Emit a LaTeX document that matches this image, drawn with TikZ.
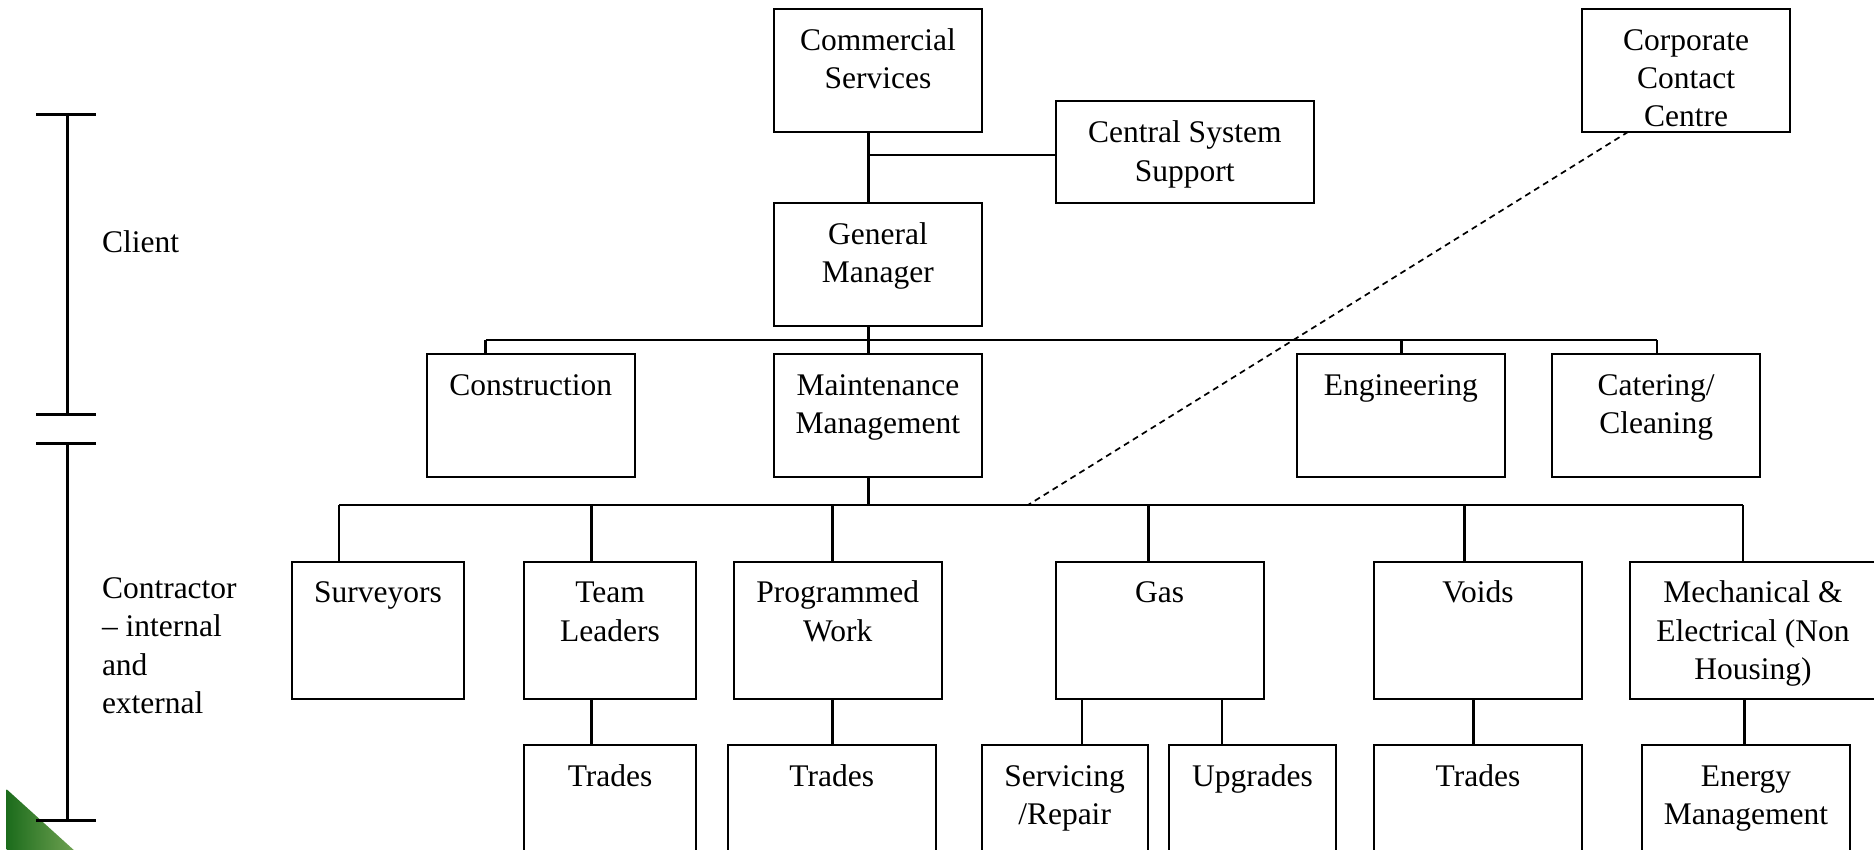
\documentclass[tikz,border=0pt]{standalone}
\usepackage{fontspec}
\setmainfont{Liberation Serif}
\begin{document}
\begin{tikzpicture}[x=1pt,y=-1pt,
  orgbox/.style={draw, line width=2pt, inner sep=0pt, outer sep=0pt, fill=white},
  orgtext/.style={anchor=north, inner sep=0pt, align=center,
    font=\fontsize{31.5}{38.3}\selectfont},
  sidetext/.style={inner sep=0pt, align=left,
    font=\fontsize{31.5}{38.3}\selectfont},
  link/.style={line width=2.5pt},
  dotlink/.style={line width=1.7pt, dash pattern=on 6pt off 4.5pt},
  bar/.style={line width=3pt}]

% page frame
\useasboundingbox (0,0) rectangle (1874,850);
\clip (0,0) rectangle (1874,850);

% box with its text set from the top: name, left, top, right, bottom, text
\newcommand\orgunit[6]{%
  \node[orgbox, minimum width={(#4-#2)*1pt}, minimum height={(#5-#3)*1pt}]
    (#1) at ({(#2+#4)/2},{(#3+#5)/2}) {};
  \node[orgtext] (#1-t) at ([yshift=-14.2pt]#1.north) {\strut #6};
}

% corner ornament
\definecolor{leafdark}{RGB}{28,108,28}
\definecolor{leaflight}{RGB}{112,162,82}
\shade[left color=leafdark, right color=leaflight]
  (6.7,789.3) -- (6.7,852) -- (76,852) -- cycle;

% client / contractor scale
\draw[bar] (36,114.3) -- (96.4,114.3);
\draw[bar] (67,114.3) -- (67,414.3);
\draw[bar] (36,414.3) -- (96.4,414.3);
\draw[bar] (36,443.3) -- (96.4,443.3);
\draw[bar] (67,443.3) -- (67,820);
\draw[bar] (36,820) -- (96.4,820);
\node[sidetext, anchor=base west] (client) at (101.8,253) {Client};
\node[sidetext, anchor=north west] (contractor) at (101.8,571.5)
  {\strut Contractor\\– internal\\and\\external};

% top tier
\orgunit{cs}{773.5}{9}{982.3}{131.7}{Commercial\\Services}
\orgunit{css}{1055.6}{101.5}{1314}{203.3}{Central System\\Support}
\orgunit{ccc}{1582}{9}{1790}{131.7}{Corporate\\Contact\\Centre}
\orgunit{gm}{773.5}{203.3}{982.3}{325.7}{General\\Manager}

% second tier
\orgunit{con}{426.8}{354.3}{634.8}{476.7}{Construction}
\orgunit{mm}{773.5}{354.3}{982.3}{477}{Maintenance\\Management}
\orgunit{eng}{1296.7}{354.3}{1504.9}{476.7}{Engineering}
\orgunit{cat}{1552}{354.3}{1760.2}{476.7}{Catering/\\Cleaning}

% third tier
\orgunit{sur}{291.5}{561.7}{464.3}{699.3}{Surveyors}
\orgunit{tl}{523.7}{561.7}{696.4}{699.3}{Team\\Leaders}
\orgunit{pw}{733.7}{561.7}{941.8}{699.3}{Programmed\\Work}
\orgunit{gas}{1055.6}{561.7}{1263.8}{699.3}{Gas}
\orgunit{voi}{1373.9}{561.7}{1582}{699.3}{Voids}
\orgunit{mee}{1630}{561.7}{1876}{699.3}{Mechanical \&\\Electrical (Non\\Housing)}

% fourth tier
\orgunit{tr1}{523.7}{745}{696.4}{880}{Trades}
\orgunit{tr2}{727.7}{745}{935.8}{880}{Trades}
\orgunit{ser}{981.5}{745}{1147.7}{880}{Servicing\\/Repair}
\orgunit{upg}{1169.4}{745}{1335.7}{880}{Upgrades}
\orgunit{tr3}{1373.9}{745}{1582}{880}{Trades}
\orgunit{em}{1641.9}{745}{1850}{880}{Energy\\Management}

% main spine
\coordinate (spine) at (868.5,155);
\draw[link] (spine |- cs.south) -- (spine |- gm.north);
\draw[link] (spine) -- (spine -| css.west);
\draw[link] (spine |- gm.south) -- (spine |- mm.north);

% bus under the general manager
\coordinate (busAL) at (485.7,340);
\coordinate (busAR) at (1656.9,340);
\coordinate (busAE) at (1401.6,340);
\draw[link] (busAL) -- (busAR);
\draw[link] (busAL) -- (busAL |- con.north);
\draw[link] (busAE) -- (busAE |- eng.north);
\draw[link] (busAR) -- (busAR |- cat.north);

% bus under maintenance management
\coordinate (busBL) at (339,505);
\coordinate (busBR) at (1743,505);
\draw[link] (busBL) -- (busBR);
\draw[link] (spine |- mm.south) -- (spine |- busBL);
\foreach \x/\b in {339/sur, 591.5/tl, 832.5/pw, 1148.5/gas, 1464.4/voi, 1743/mee}{
  \coordinate (drop) at (\x,505);
  \draw[link] (drop) -- (drop |- \b.north);
}

% links to the fourth tier
\foreach \x/\a/\b in {591.5/tl/tr1, 832.5/pw/tr2, 1081.9/gas/ser,
                      1221.9/gas/upg, 1473.4/voi/tr3, 1744.5/mee/em}{
  \coordinate (drop) at (\x,0);
  \draw[link] (drop |- \a.south) -- (drop |- \b.north);
}

% dotted reporting line from the contact centre
\coordinate (ccfoot) at (1628.4,0);
\coordinate (ccend) at (1028,505);
\draw[dotlink] (ccfoot |- ccc.south) -- (ccend);

\end{tikzpicture}
\end{document}
